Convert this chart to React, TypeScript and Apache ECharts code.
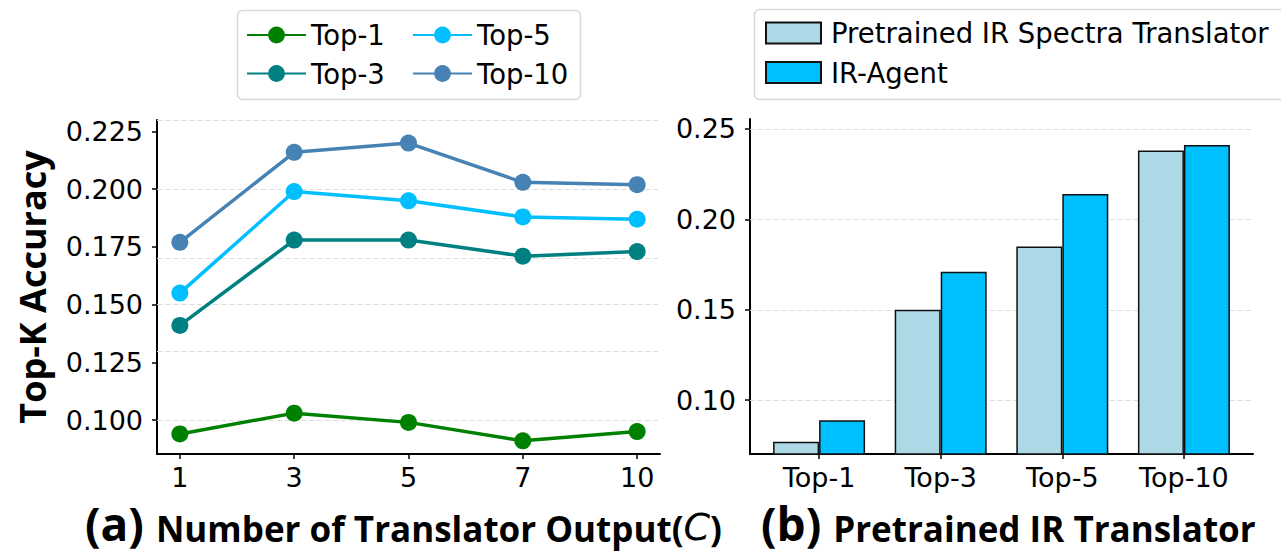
import React, { useEffect, useRef } from 'react';
import * as echarts from 'echarts';

// ---- data: panel (a) ----
const lineCategories = ['1', '3', '5', '7', '10'];
const top1 = [0.094, 0.103, 0.099, 0.091, 0.095];
const top3 = [0.141, 0.178, 0.178, 0.171, 0.173];
const top5 = [0.155, 0.199, 0.195, 0.188, 0.187];
const top10 = [0.177, 0.216, 0.22, 0.203, 0.202];
const leftYTicks = [0.1, 0.125, 0.15, 0.175, 0.2, 0.225];

// ---- data: panel (b) ----
const barCategories = ['Top-1', 'Top-3', 'Top-5', 'Top-10'];
const pretrained = [0.077, 0.15, 0.185, 0.238];
const irAgent = [0.089, 0.171, 0.214, 0.241];
const rightYTicks = [0.1, 0.15, 0.2, 0.25];

const FONT = 'DejaVu Sans';
const TITLE_FONT = 'Open Sans';

const lineIdx = lineCategories.map((_, i) => i);
const barIdx = barCategories.map((_, i) => i);

const axisLine = { show: true, onZero: false, lineStyle: { color: '#000', width: 2 } };
const tick = (vals: number[]) => ({
  show: true,
  length: 5,
  inside: false,
  customValues: vals,
  lineStyle: { color: '#000', width: 1.5 },
});
const label = (vals: number[], fmt: (v: number) => string, margin: number) => ({
  show: true,
  customValues: vals,
  formatter: fmt,
  fontSize: 27,
  fontFamily: FONT,
  color: '#000',
  margin,
});
const gridLines = (vals: number[]) => ({
  silent: true,
  z: 1,
  symbol: ['none', 'none'],
  label: { show: false },
  emphasis: { disabled: true },
  lineStyle: { type: [5, 3], color: '#dcdcdc', width: 1 },
  data: vals.map((v) => ({ yAxis: v })),
});

const lineSeries = (name: string, color: string, vals: number[], withGrid = false) => ({
  name,
  type: 'line',
  xAxisIndex: 0,
  yAxisIndex: 0,
  z: 3,
  data: vals.map((v, i) => [lineIdx[i], v]),
  symbol: 'circle',
  symbolSize: 17,
  lineStyle: { width: 3.5, color },
  itemStyle: { color },
  ...(withGrid ? { markLine: gridLines(leftYTicks) } : {}),
});

const legendText = { fontSize: 27.5, fontFamily: FONT, color: '#000' };

const titleRich = {
  a: { fontSize: 46, lineHeight: 46, fontWeight: 'bold', fontFamily: TITLE_FONT, fill: '#000', verticalAlign: 'bottom' },
  t: { fontSize: 35, lineHeight: 35, fontWeight: 'bold', fontFamily: TITLE_FONT, fill: '#000', verticalAlign: 'bottom' },
  c: { fontSize: 38, lineHeight: 38, fontWeight: 'normal', fontStyle: 'italic', fontFamily: FONT, fill: '#000', verticalAlign: 'bottom' },
};

export default function App() {
  const ref = useRef<HTMLDivElement>(null);
  useEffect(() => {
    if (!ref.current) return;
    const chart = echarts.init(ref.current, undefined, { renderer: 'svg' });
    chart.setOption({
      animation: false,
      backgroundColor: '#fff',
      grid: [
        { left: 157, top: 120, width: 503, height: 334 },
        { left: 750, top: 119, width: 503, height: 335 },
      ],
      xAxis: [
        {
          type: 'value',
          gridIndex: 0,
          min: -0.2,
          max: 4.2,
          axisLine,
          axisTick: tick(lineIdx),
          axisLabel: label(lineIdx, (v: number) => lineCategories[Math.round(v)], 10),
          splitLine: { show: false },
        },
        {
          type: 'value',
          gridIndex: 1,
          min: -0.568,
          max: 3.568,
          axisLine,
          axisTick: tick(barIdx),
          axisLabel: label(barIdx, (v: number) => barCategories[Math.round(v)], 10),
          splitLine: { show: false },
        },
      ],
      yAxis: [
        {
          type: 'value',
          gridIndex: 0,
          min: 0.0853,
          max: 0.23,
          axisLine,
          axisTick: tick(leftYTicks),
          axisLabel: label(leftYTicks, (v: number) => v.toFixed(3), 14),
          splitLine: { show: false },
        },
        {
          type: 'value',
          gridIndex: 1,
          min: 0.0703,
          max: 0.2554,
          axisLine,
          axisTick: tick(rightYTicks),
          axisLabel: label(rightYTicks, (v: number) => v.toFixed(2), 14),
          splitLine: { show: false },
        },
      ],
      legend: [
        {
          data: ['Top-1', 'Top-3'],
          orient: 'vertical',
          left: 246,
          top: 21,
          padding: 0,
          itemWidth: 59,
          itemHeight: 21,
          itemGap: 10.5,
          selectedMode: false,
          textStyle: legendText,
        },
        {
          data: ['Top-5', 'Top-10'],
          orient: 'vertical',
          left: 412,
          top: 21,
          padding: 0,
          itemWidth: 59,
          itemHeight: 21,
          itemGap: 10.5,
          selectedMode: false,
          textStyle: legendText,
        },
        {
          data: ['Pretrained IR Spectra Translator', 'IR-Agent'],
          orient: 'vertical',
          left: 765,
          top: 19,
          padding: 0,
          icon: 'rect',
          itemWidth: 55,
          itemHeight: 21,
          itemGap: 11.5,
          selectedMode: false,
          textStyle: { ...legendText, padding: [0, 0, 0, 5] },
        },
      ],
      series: [
        lineSeries('Top-1', '#008000', top1, true),
        lineSeries('Top-3', '#008080', top3),
        lineSeries('Top-5', '#00BFFF', top5),
        lineSeries('Top-10', '#4682B4', top10),
        {
          name: 'Pretrained IR Spectra Translator',
          type: 'bar',
          xAxisIndex: 1,
          yAxisIndex: 1,
          z: 2,
          barWidth: 46,
          barGap: '0%',
          data: pretrained.map((v, i) => [barIdx[i], v]),
          itemStyle: { color: '#ADD8E6', borderColor: '#111', borderWidth: 1.5 },
          markLine: gridLines(rightYTicks),
        },
        {
          name: 'IR-Agent',
          type: 'bar',
          xAxisIndex: 1,
          yAxisIndex: 1,
          z: 2,
          barWidth: 46,
          barGap: '0%',
          data: irAgent.map((v, i) => [barIdx[i], v]),
          itemStyle: { color: '#00BFFF', borderColor: '#111', borderWidth: 1.5 },
        },
      ],
      graphic: [
        {
          type: 'rect',
          z: 0,
          silent: true,
          shape: { x: 237.5, y: 10.5, width: 343, height: 89, r: 5 },
          style: { fill: '#fff', stroke: '#d9d9d9', lineWidth: 1.5 },
        },
        {
          type: 'rect',
          z: 0,
          silent: true,
          shape: { x: 754.5, y: 9.5, width: 560, height: 90, r: 5 },
          style: { fill: '#fff', stroke: '#d9d9d9', lineWidth: 1.5 },
        },
        {
          type: 'text',
          x: 32,
          y: 287,
          rotation: Math.PI / 2,
          style: {
            text: 'Top-K Accuracy',
            fontSize: 36,
            fontWeight: 'bold',
            fontFamily: TITLE_FONT,
            fill: '#000',
            align: 'center',
            verticalAlign: 'middle',
            textAlign: 'center',
            textVerticalAlign: 'middle',
          },
        },
        {
          type: 'text',
          x: 85,
          y: 546,
          style: {
            text: '{a|(a) }{t|Number of Translator Output(}{c|C}{t|)}',
            fontSize: 35,
            fontWeight: 'bold',
            fontFamily: TITLE_FONT,
            fill: '#000',
            align: 'left',
            verticalAlign: 'bottom',
            textAlign: 'left',
            textVerticalAlign: 'bottom',
            rich: titleRich,
          },
        },
        {
          type: 'text',
          x: 761,
          y: 546,
          style: {
            text: '{a|(b) }{t|Pretrained IR Translator}',
            fontSize: 35,
            fontWeight: 'bold',
            fontFamily: TITLE_FONT,
            fill: '#000',
            align: 'left',
            verticalAlign: 'bottom',
            textAlign: 'left',
            textVerticalAlign: 'bottom',
            rich: titleRich,
          },
        },
      ],
    });
    return () => chart.dispose();
  }, []);
  return (
    <div
      ref={ref}
      style={{ position: 'absolute', left: 0, top: 0, width: 1281, height: 553, background: '#fff' }}
    />
  );
}
